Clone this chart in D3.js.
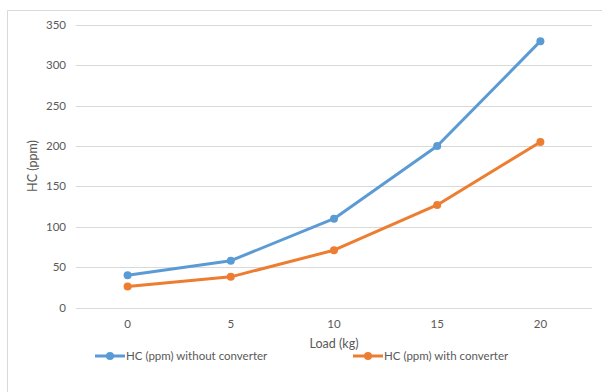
<!DOCTYPE html>
<html>
<head>
<meta charset="utf-8">
<script src="https://cdn.jsdelivr.net/npm/d3@7"></script>
<style>
  body { margin: 0; background: #fff; }
  text { font-family: Lato, "Open Sans", sans-serif; fill: #595959; }
</style>
</head>
<body>
<svg width="602" height="392"></svg>
<script>
const loads = [0, 5, 10, 15, 20];
const withoutConverter = [40, 58, 110, 200, 330];
const withConverter = [26, 38, 71, 127, 205];
const yTicks = [0, 50, 100, 150, 200, 250, 300, 350];
const seriesNames = ["HC (ppm) without converter", "HC (ppm) with converter"];
const colors = ["#5b9bd5", "#ed7d31"];

const svg = d3.select("svg");

// chart area border (only top + left show in the crop)
svg.append("path")
  .attr("d", "M7.5,392V10.5H602")
  .attr("fill", "none")
  .attr("stroke", "#d9d9d9");

const x = d3.scaleBand().domain(loads).range([76, 592]);
const y = d3.scaleLinear().domain([0, 350]).range([307.5, 25]);

// gridlines
svg.append("g")
  .selectAll("line")
  .data(yTicks)
  .enter().append("line")
    .attr("x1", 76).attr("x2", 592)
    .attr("y1", d => Math.round(y(d)) + 0.5)
    .attr("y2", d => Math.round(y(d)) + 0.5)
    .attr("stroke", "#d9d9d9");

// y tick labels
svg.append("g")
  .selectAll("text")
  .data(yTicks)
  .enter().append("text")
    .attr("x", 66)
    .attr("y", d => y(d) + 4)
    .attr("text-anchor", "end")
    .attr("font-size", 11.5)
    .text(d => d);

// x tick labels
svg.append("g")
  .selectAll("text")
  .data(loads)
  .enter().append("text")
    .attr("x", d => x(d) + x.bandwidth() / 2)
    .attr("y", 328)
    .attr("text-anchor", "middle")
    .attr("font-size", 11.5)
    .text(d => d);

// axis titles
svg.append("text")
  .attr("x", 334).attr("y", 348)
  .attr("text-anchor", "middle")
  .attr("font-size", 12.5)
  .text("Load (kg)");
svg.append("text")
  .attr("transform", "translate(37,166) rotate(-90)")
  .attr("text-anchor", "middle")
  .attr("font-size", 12.5)
  .text("HC (ppm)");

// series
const series = [withoutConverter, withConverter];
const line = d3.line()
  .x((d, i) => x(loads[i]) + x.bandwidth() / 2)
  .y(d => y(d));

series.forEach(function(vals, s) {
  svg.append("path")
    .datum(vals)
    .attr("d", line)
    .attr("fill", "none")
    .attr("stroke", colors[s])
    .attr("stroke-width", 3)
    .attr("stroke-linejoin", "round");
  svg.append("g")
    .selectAll("circle")
    .data(vals)
    .enter().append("circle")
      .attr("cx", (d, i) => x(loads[i]) + x.bandwidth() / 2)
      .attr("cy", d => y(d))
      .attr("r", 4)
      .attr("fill", colors[s]);
});

// legend
const legendX = [95, 353];
seriesNames.forEach(function(name, s) {
  const g = svg.append("g").attr("transform", "translate(" + legendX[s] + ",356)");
  g.append("line").attr("x1", 0).attr("x2", 30)
    .attr("stroke", colors[s]).attr("stroke-width", 3);
  g.append("circle").attr("cx", 15).attr("r", 4).attr("fill", colors[s]);
  g.append("text").attr("x", 31).attr("y", 4)
    .attr("font-size", 11.5)
    .text(name);
});
</script>
</body>
</html>
